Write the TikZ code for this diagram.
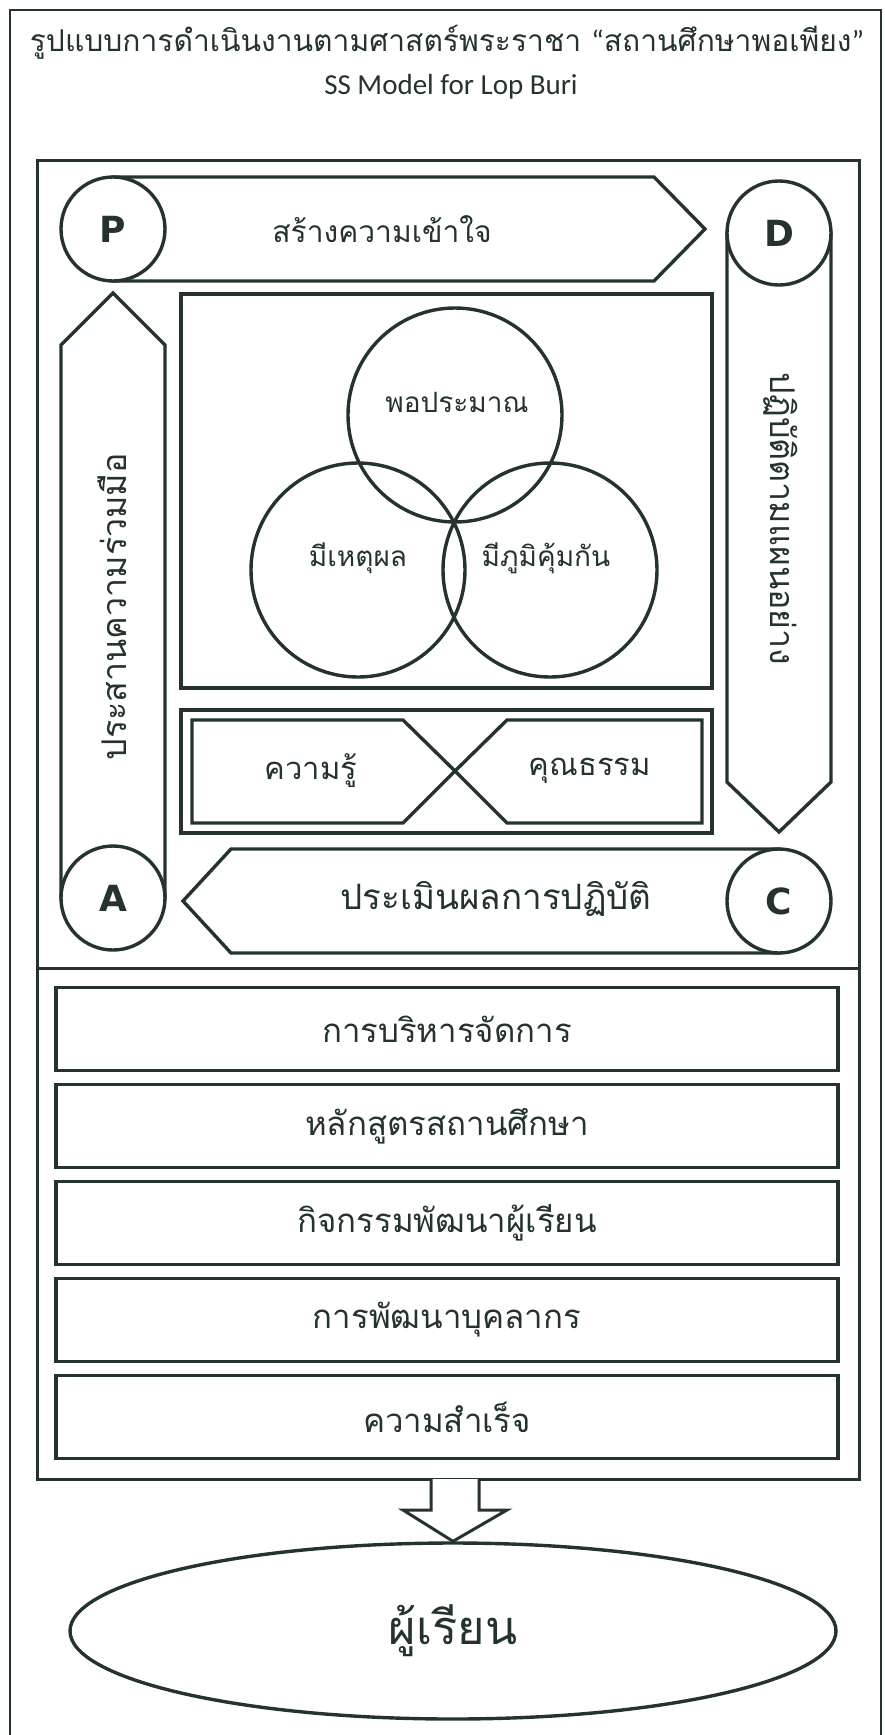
\documentclass[tikz,border=0pt]{standalone}
\usepackage{fontspec}
\usetikzlibrary{shapes.geometric}
\newfontfamily\thaifont[Script=Thai]{Loma}
\newfontfamily\latinfont{Carlito}
\newfontfamily\pdcafont{DejaVu Sans}
\definecolor{ink}{RGB}{36,52,45}
\begin{document}
\begin{tikzpicture}[x=1pt,y=-1pt,line join=miter,
  shapeline/.style={draw=ink,line width=3.4pt,fill=white},
  pdca/.style={shapeline,circle,minimum size=104pt,inner sep=0pt,text=ink,
    font=\pdcafont\bfseries\fontsize{36}{36}\selectfont},
  thlabel/.style={text=ink,inner sep=0pt,font=\thaifont\fontsize{#1}{#1}\selectfont},
  rowbox/.style={draw=ink,line width=3.4pt,minimum width=782pt,minimum height=83pt,
    inner sep=0pt,text=ink,font=\thaifont\fontsize{33}{33}\selectfont}]
\useasboundingbox (0,0) rectangle (884,1735);
\draw[ink,line width=2pt] (10,1735) -- (10,10) -- (881,10) -- (881,1735);
\node[thlabel=30] (title) at (447,42)
  {รูปแบบการดำเนินงานตามศาสตร์พระราชา {\latinfont “}สถานศึกษาพอเพียง{\latinfont ”}};
\node[text=ink,font=\latinfont\fontsize{29}{29}\selectfont] (sub) at (451,87) {SS Model for Lop Buri};
\draw[ink,line width=3pt] (37,160) rectangle (859,1479);
\draw[ink,line width=3pt] (37,968) -- (859,968);
\draw[shapeline] (113,177) -- (654,177) -- (705,229) -- (654,281) -- (113,281) -- cycle;
\draw[shapeline] (727,233) -- (727,782) -- (779,832) -- (831,782) -- (831,233) -- cycle;
\draw[shapeline] (779,849) -- (231,849) -- (183,901) -- (231,953) -- (779,953) -- cycle;
\draw[shapeline] (61,898) -- (61,345) -- (113,293) -- (165,345) -- (165,898) -- cycle;
\node[pdca] (P) at (113,229) {P};
\node[pdca] (D) at (779,233) {D};
\node[pdca] (C) at (779,901) {C};
\node[pdca] (A) at (113,898) {A};
\node[thlabel=30] (understand) at (382,229) {สร้างความเข้าใจ};
\node[thlabel=34,rotate=-90] (practice) at (781,519) {ปฏิบัติตามแผนอย่าง};
\node[thlabel=35] (evaluate) at (496,899) {ประเมินผลการปฏิบัติ};
\node[thlabel=34,rotate=90] (cooperate) at (112,607) {ประสานความร่วมมือ};
\draw[ink,line width=3.4pt] (181,294) rectangle (712,688);
\draw[ink,line width=3.4pt] (455,415) circle (107pt) (358,570) circle (107pt) (550,570) circle (107pt);
\node[thlabel=28] (moderate) at (457,402) {พอประมาณ};
\node[thlabel=28] (reason) at (358,558) {มีเหตุผล};
\node[thlabel=28] (immune) at (546,558) {มีภูมิคุ้มกัน};
\draw[ink,line width=3.4pt] (181,710) rectangle (712,833);
\draw[shapeline] (192,720) -- (403,720) -- (455,771) -- (403,823) -- (192,823) -- cycle;
\draw[shapeline] (702,720) -- (507,720) -- (455,771) -- (507,823) -- (702,823) -- cycle;
\node[thlabel=31] (knowledge) at (311,771) {ความรู้};
\node[thlabel=31] (virtue) at (590,771) {คุณธรรม};
\foreach \txt [count=\i from 0] in {การบริหารจัดการ,หลักสูตรสถานศึกษา,กิจกรรมพัฒนาผู้เรียน,การพัฒนาบุคลากร,ความสำเร็จ}
  \node[rowbox] (row\i) at (447,{1029+97*\i}) {\txt};
\node[draw=ink,line width=3.4pt,ellipse,minimum width=766pt,minimum height=176pt,inner sep=0pt,
  text=ink,font=\thaifont\fontsize{47}{47}\selectfont] (learner) at (453,1631) {ผู้เรียน};
\draw[ink,line width=3pt,fill=white] (431,1479) -- (431,1510) -- (403,1510) -- (learner.north)
  -- (507,1510) -- (479,1510) -- (479,1479);
\end{tikzpicture}
\end{document}
